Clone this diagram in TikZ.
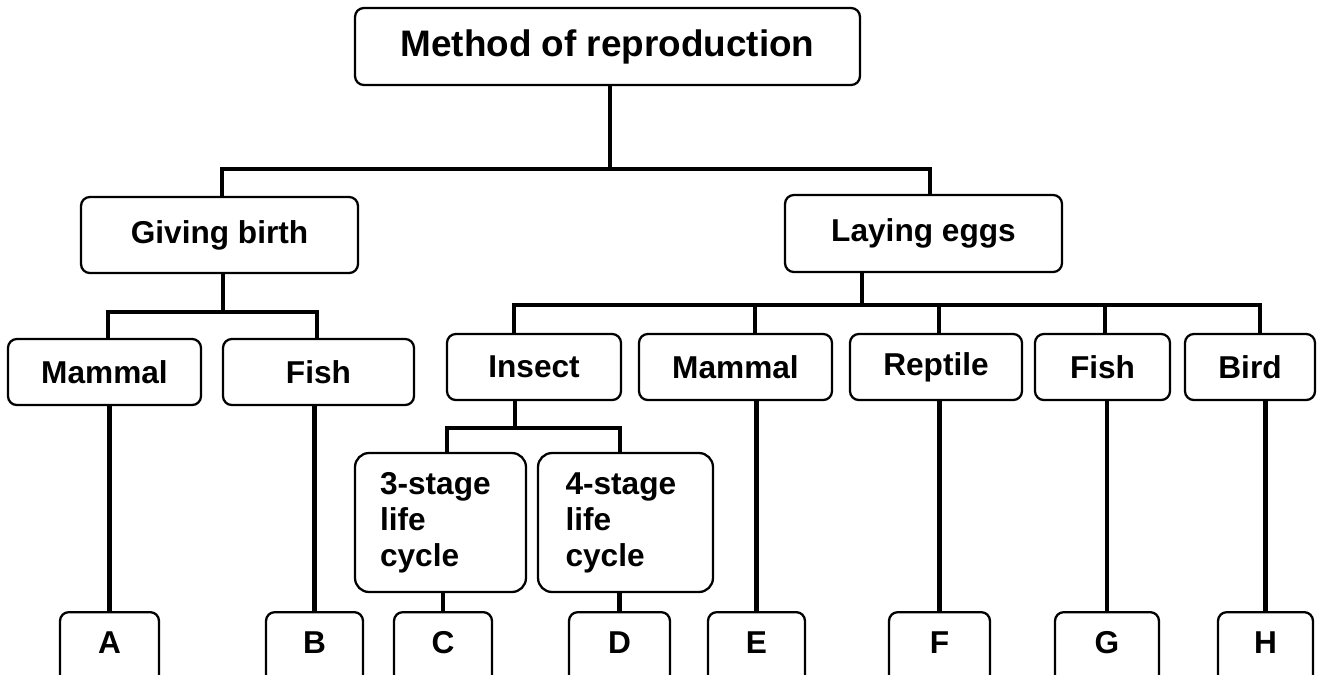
\documentclass[tikz,border=0pt]{standalone}
\usepackage{fontspec}
\setmainfont{Liberation Sans}
\usepackage{tikz}
\usetikzlibrary{positioning}

\tikzset{
  box/.style={draw, line width=1.3pt, rounded corners=5pt, inner sep=0pt,
    align=center, minimum height=1.32cm,
    font=\fontsize{18}{20.5}\selectfont\bfseries},
  stagebox/.style={box, rounded corners=8pt, align=left, minimum height=2.78cm},
  leaf/.style={box, anchor=north, minimum height=1.8cm, text depth=17pt},
  link/.style={line width=2.6pt}
}

\begin{document}
\begin{tikzpicture}[x=0.02cm, y=-0.02cm]
    \clip (0,0) rectangle (1323,674);

    % top level
    \node[box, minimum width=10.1cm, minimum height=1.54cm,
      font=\fontsize{21}{25}\selectfont\bfseries] (title) at (607.5,46.5) {Method of reproduction};
    \node[box, minimum width=5.54cm, minimum height=1.52cm] (birth) at (219.5,235) {Giving birth};
    \node[box, minimum width=5.54cm, minimum height=1.54cm] (eggs) at (923.5,233.5) {Laying eggs};

    % animal groups
    \node[box, minimum width=3.86cm] (mammal1) at (104.5,372) {Mammal};
    \node[box, minimum width=3.82cm] (fish1) at (318.5,372) {Fish};
    \node[box, minimum width=3.48cm] (insect) at (534,367) {Insect};
    \node[box, minimum width=3.86cm] (mammal2) at (735.5,367) {Mammal};
    \node[box, minimum width=3.44cm] (reptile) at (936,367) {Reptile};
    \node[box, minimum width=2.7cm] (fish2) at (1102.5,367) {Fish};
    \node[box, minimum width=2.6cm] (bird) at (1250,367) {Bird};

    % insect life cycles
    \node[stagebox, minimum width=3.42cm, text width=2.42cm] (stage3) at (440.5,522.5) {3-stage\\life\\cycle};
    \node[stagebox, minimum width=3.5cm, text width=2.4cm] (stage4) at (625.5,522.5) {4-stage\\life\\cycle};

    % answer boxes
    \node[leaf, minimum width=1.98cm] (a) at (109.5,611) {A};
    \node[leaf, minimum width=1.94cm] (b) at (314.5,611) {B};
    \node[leaf, minimum width=1.96cm] (c) at (443,611) {C};
    \node[leaf, minimum width=2.02cm] (d) at (619.5,611) {D};
    \node[leaf, minimum width=1.94cm] (e) at (756.5,611) {E};
    \node[leaf, minimum width=2.02cm] (f) at (939.5,611) {F};
    \node[leaf, minimum width=2.08cm] (g) at (1107,611) {G};
    \node[leaf, minimum width=1.9cm] (h) at (1265.5,611) {H};

    % junction points
    \coordinate (jtop) at (610,169);
    \coordinate (jl) at (222,169);
    \coordinate (jr) at (930,169);
    \coordinate (jbirth) at (223,312);
    \coordinate (bm) at (108,312);
    \coordinate (bf) at (317,312);
    \coordinate (jeggs) at (862,305);
    \coordinate (ei) at (514,305);
    \coordinate (em) at (755,305);
    \coordinate (er) at (939,305);
    \coordinate (ef) at (1105,305);
    \coordinate (eb) at (1260,305);
    \coordinate (jins) at (515,428);
    \coordinate (s3) at (447,428);
    \coordinate (s4) at (620,428);

    % tree lines
    \draw[link] (title.south -| jtop) -- (jtop);
    \draw[link] (jl |- birth.north) -- (jl) -- (jr) -- (jr |- eggs.north);

    \draw[link] (birth.south -| jbirth) -- (jbirth);
    \draw[link] (bm |- mammal1.north) -- (bm) -- (bf) -- (bf |- fish1.north);

    \draw[link] (eggs.south -| jeggs) -- (jeggs);
    \draw[link] (ei |- insect.north) -- (ei) -- (eb) -- (eb |- bird.north);
    \draw[link] (em) -- (em |- mammal2.north);
    \draw[link] (er) -- (er |- reptile.north);
    \draw[link] (ef) -- (ef |- fish2.north);

    \draw[link] (insect.south -| jins) -- (jins);
    \draw[link] (s3 |- stage3.north) -- (s3) -- (s4) -- (s4 |- stage4.north);

    % down to the answer boxes
    \draw[link] (a.north |- mammal1.south) -- (a.north);
    \draw[link] (b.north |- fish1.south) -- (b.north);
    \draw[link] (c.north |- stage3.south) -- (c.north);
    \draw[link] (d.north |- stage4.south) -- (d.north);
    \draw[link] (e.north |- mammal2.south) -- (e.north);
    \draw[link] (f.north |- reptile.south) -- (f.north);
    \draw[link] (g.north |- fish2.south) -- (g.north);
    \draw[link] (h.north |- bird.south) -- (h.north);
\end{tikzpicture}
\end{document}
